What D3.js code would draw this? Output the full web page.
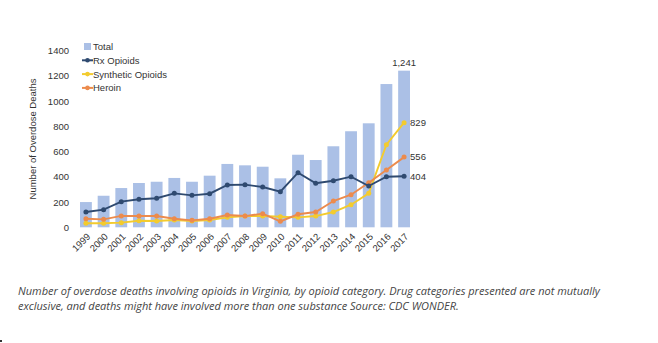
<!DOCTYPE html>
<html><head><meta charset="utf-8">
<script src="https://cdn.jsdelivr.net/npm/d3@7"></script>
<style>
html,body{margin:0;padding:0;background:#fff;}
svg{display:block;}
</style></head>
<body>
<svg id="c" width="658" height="343"></svg>
<script>
const years = ["1999","2000","2001","2002","2003","2004","2005","2006","2007","2008","2009","2010","2011","2012","2013","2014","2015","2016","2017"];
const total = [200,250,311,351,361,391,361,409,502,491,480,388,575,533,642,761,824,1135,1241];
const rxOpioids = [121,140,203,222,230,269,253,266,335,338,319,282,433,349,369,401,327,401,404];
const synthetic = [32,32,37,52,50,58,50,58,79,89,89,84,79,89,121,179,269,655,829];
const heroin = [68,63,90,90,90,68,55,68,97,89,108,47,103,121,208,258,353,454,556];
const yTicks = [0,200,400,600,800,1000,1200,1400];
const legendNames = ["Total","Rx Opioids","Synthetic Opioids","Heroin"];
const caption = ["Number of overdose deaths involving opioids in Virginia, by opioid category. Drug categories presented are not mutually",
                 "exclusive, and deaths might have involved more than one substance Source: CDC WONDER."];

const colors = {bar:"#abc0e6", rx:"#2f4a70", syn:"#f3cb2e", her:"#ec8b4d"};
const svg = d3.select("#c");
const font = "'Liberation Sans', Arial, sans-serif";

const x = d3.scaleBand().domain(years).range([77, 413]).paddingInner(0.33).paddingOuter(0.17);
const y = d3.scaleLinear().domain([0,1400]).range([227.3, 50.6]);
const cx = d => x(d) + x.bandwidth()/2;

// bars
svg.append("g").selectAll("rect").data(years).join("rect")
  .attr("x", d => x(d)).attr("width", x.bandwidth())
  .attr("y", (d,i) => y(total[i])).attr("height", (d,i) => y(0) - y(total[i]))
  .attr("fill", colors.bar);

// y axis
const ya = svg.append("g").attr("transform","translate(69,0)")
  .call(d3.axisLeft(y).tickValues(yTicks).tickSize(0).tickPadding(0).tickFormat(d3.format("d")));
ya.select(".domain").remove();
ya.selectAll("text").attr("font-family", font).attr("font-size", 9.5).attr("fill","#333");

// x axis
const xa = svg.append("g").attr("transform","translate(0,227.3)")
  .call(d3.axisBottom(x).tickSize(0).tickPadding(0));
xa.select(".domain").remove();
xa.selectAll("text").attr("font-family", font).attr("font-size", 9.5).attr("fill","#333")
  .attr("text-anchor","end").attr("dy","0").attr("transform","translate(5,10) rotate(-45)");

// axis title
svg.append("text").attr("transform","translate(36,139) rotate(-90)")
  .attr("text-anchor","middle").attr("font-family",font).attr("font-size",9.5).attr("fill","#333")
  .text("Number of Overdose Deaths");

// lines
const series = [[synthetic, colors.syn],[heroin, colors.her],[rxOpioids, colors.rx]];
const line = d3.line().x((d,i) => cx(years[i])).y(d => y(d));
series.forEach(([vals,col]) => {
  svg.append("path").datum(vals).attr("d", line).attr("fill","none")
    .attr("stroke", col).attr("stroke-width", 1.9);
  svg.append("g").selectAll("circle").data(vals).join("circle")
    .attr("cx",(d,i)=>cx(years[i])).attr("cy", d=>y(d)).attr("r",2.5).attr("fill",col);
});

// data labels
const last = years.length-1;
const lblFmt = d3.format(",");
svg.append("text").attr("x", cx(years[last])).attr("y", y(total[last]) - 5)
  .attr("text-anchor","middle").attr("font-family",font).attr("font-size",9.5).attr("fill","#333")
  .text(lblFmt(total[last]));
[[synthetic],[heroin],[rxOpioids]].forEach(([vals]) => {
  svg.append("text").attr("x", cx(years[last]) + 6).attr("y", y(vals[last]) + 3.3)
    .attr("font-family",font).attr("font-size",9.5).attr("fill","#333").text(lblFmt(vals[last]));
});

// legend
const lg = svg.append("g");
const legCols = [colors.bar, colors.rx, colors.syn, colors.her];
legendNames.forEach((n,i) => {
  const ly = 46.5 + i*13.8;
  if (i === 0) {
    lg.append("rect").attr("x",84).attr("y",ly-3.5).attr("width",7).attr("height",7).attr("fill",legCols[i]);
  } else {
    lg.append("line").attr("x1",82).attr("x2",93).attr("y1",ly).attr("y2",ly).attr("stroke",legCols[i]).attr("stroke-width",2);
    lg.append("circle").attr("cx",87.5).attr("cy",ly).attr("r",2.3).attr("fill",legCols[i]);
  }
  lg.append("text").attr("x",93).attr("y",ly+3.4).attr("font-family",font).attr("font-size",9.5).attr("fill","#333").text(n);
});

// caption
caption.forEach((t,i) => {
  svg.append("text").attr("x",18).attr("y",295 + i*14.5)
    .attr("font-family","'Open Sans', sans-serif").attr("font-style","italic")
    .attr("font-size",11).attr("fill","#444").text(t);
});
svg.append("rect").attr("x",0).attr("y",340).attr("width",2).attr("height",2).attr("fill","#333");
</script>
</body></html>
